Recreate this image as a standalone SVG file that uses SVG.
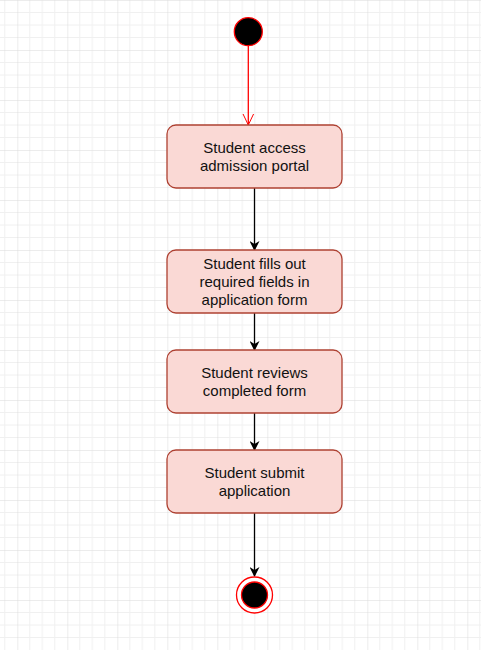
<svg xmlns="http://www.w3.org/2000/svg" width="481" height="650" viewBox="0 0 481 650">
  <defs>
    <pattern id="grid" patternUnits="userSpaceOnUse" x="17.3" y="0" width="50" height="50">
      <path d="M12.5 0V50M25 0V50M37.5 0V50M0 12.5H50M0 25H50M0 37.5H50" stroke="#f0f0f0" stroke-width="1" fill="none"/>
      <path d="M0 0V50M0 0H50" stroke="#dadada" stroke-width="1" fill="none"/>
    </pattern>
    <marker id="block" viewBox="0 0 10 10" refX="9" refY="5" markerWidth="10" markerHeight="10" markerUnits="userSpaceOnUse" orient="auto">
      <path d="M0 0L10 5L0 10L3 5Z" fill="#000"/>
    </marker>
    <marker id="open" viewBox="0 0 12 12" refX="11.5" refY="6" markerWidth="12" markerHeight="12" markerUnits="userSpaceOnUse" orient="auto">
      <path d="M0 0.5L11.5 6L0 11.5" fill="none" stroke="#ff0000" stroke-width="1"/>
    </marker>
  </defs>
  <style>
    .box { fill: #fad9d5; stroke: #ae4132; stroke-width: 1.3; }
    .lbl { font-family: "Liberation Sans", Arial, sans-serif; font-size: 15px; fill: #111; text-anchor: middle; }
    .conn { stroke: #000; stroke-width: 1.3; fill: none; marker-end: url(#block); }
  </style>
  <rect x="0" y="0" width="481" height="650" fill="#fff"/>
  <rect x="0" y="0" width="481" height="650" fill="url(#grid)"/>

  <g id="connectors">
    <line x1="248.3" y1="46" x2="248.3" y2="125" stroke="#ff0000" stroke-width="1.3" marker-end="url(#open)"/>
    <line class="conn" x1="254.5" y1="188" x2="254.5" y2="250"/>
    <line class="conn" x1="254.5" y1="313" x2="254.5" y2="350"/>
    <line class="conn" x1="254.5" y1="413" x2="254.5" y2="450"/>
    <line class="conn" x1="254.5" y1="513" x2="254.5" y2="576"/>
  </g>

  <g id="start">
    <circle cx="248.3" cy="31.7" r="14" fill="#000" stroke="#ff0000" stroke-width="1.3"/>
  </g>

  <g id="node1">
    <rect class="box" x="167" y="125" width="175" height="63" rx="9"/>
    <text class="lbl" x="254.5" y="153">Student access</text>
    <text class="lbl" x="254.5" y="171">admission portal</text>
  </g>

  <g id="node2">
    <rect class="box" x="167" y="250" width="175" height="63" rx="9"/>
    <text class="lbl" x="254.5" y="269">Student fills out</text>
    <text class="lbl" x="254.5" y="287">required fields in</text>
    <text class="lbl" x="254.5" y="305">application form</text>
  </g>

  <g id="node3">
    <rect class="box" x="167" y="350" width="175" height="63" rx="9"/>
    <text class="lbl" x="254.5" y="378">Student reviews</text>
    <text class="lbl" x="254.5" y="396">completed form</text>
  </g>

  <g id="node4">
    <rect class="box" x="167" y="450" width="175" height="63" rx="9"/>
    <text class="lbl" x="254.5" y="478">Student submit</text>
    <text class="lbl" x="254.5" y="496">application</text>
  </g>

  <g id="end">
    <circle cx="254.5" cy="595" r="18" fill="#fff" stroke="#ff0000" stroke-width="1.3"/>
    <circle cx="254.5" cy="595" r="13" fill="#000" stroke="#ff0000" stroke-width="1.3"/>
  </g>
</svg>
